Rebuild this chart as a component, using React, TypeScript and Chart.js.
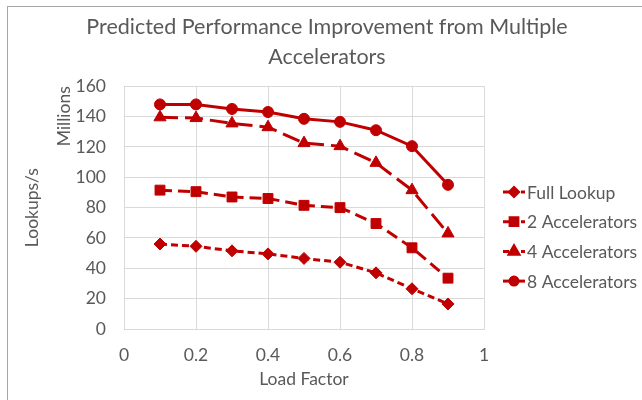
import React, { useEffect, useRef } from "react";
import { Chart, registerables } from "chart.js";
import { drawPoint } from "chart.js/helpers";

Chart.register(...registerables);

const loadFactors = [0.1, 0.2, 0.3, 0.4, 0.5, 0.6, 0.7, 0.8, 0.9];
const fullLookup = [56, 54.5, 51.5, 49.5, 46.5, 44, 37, 26.5, 16.5];
const accel2 = [91.5, 90.5, 87, 86, 81.5, 80, 69.5, 53.5, 33.5];
const accel4 = [139.5, 139, 135.5, 133, 122.5, 120.5, 109.5, 91.5, 63];
const accel8 = [148, 148, 145, 143, 138.5, 136.5, 131, 120.5, 95];

const seriesNames = ["Full Lookup", "2 Accelerators", "4 Accelerators", "8 Accelerators"];
const seriesValues = [fullLookup, accel2, accel4, accel8];
const pointStyles = ["rectRot", "rect", "triangle", "circle"];
const pointRadii = [6, 7, 7, 5.5];
const dashes = [[7, 4], [12, 6], [18, 7], []];

const titleLines = ["Predicted Performance Improvement from Multiple", "Accelerators"];
const xTitle = "Load Factor";
const yTitle = "Lookups/s";
const unitsLabel = "Millions";

const RED = "#C00000";
const GREY = "#595959";
const GRID = "#d9d9d9";
const FONT = "Lato, 'Open Sans', sans-serif";
const FS = 17.5;

const extrasPlugin = {
  id: "extras",
  afterDraw(chart: any) {
    const ctx = chart.ctx;
    const area = chart.chartArea;
    ctx.save();
    ctx.fillStyle = GREY;
    ctx.font = `${FS}px ${FONT}`;
    ctx.textAlign = "center";
    ctx.textBaseline = "middle";
    ctx.translate(64, area.top + 30);
    ctx.rotate(-Math.PI / 2);
    ctx.fillText(unitsLabel, 0, 0);
    ctx.restore();

    const lx = area.right + 19;
    const ly = 192;
    const gap = 29.7;
    chart.data.datasets.forEach((ds: any, i: number) => {
      const y = ly + i * gap;
      ctx.save();
      ctx.strokeStyle = RED;
      ctx.fillStyle = RED;
      ctx.lineWidth = 3;
      ctx.setLineDash(ds.borderDash && ds.borderDash.length ? [6, 3] : []);
      ctx.beginPath();
      ctx.moveTo(lx, y);
      ctx.lineTo(lx + 22, y);
      ctx.stroke();
      ctx.setLineDash([]);
      drawPoint(ctx, { pointStyle: ds.pointStyle, radius: Math.max(4, ds.pointRadius - 1.5), rotation: 0, borderWidth: 1 }, lx + 11, y);
      ctx.fillStyle = GREY;
      ctx.font = `${FS}px ${FONT}`;
      ctx.textAlign = "left";
      ctx.textBaseline = "middle";
      ctx.fillText(ds.label, lx + 24, y + 1);
      ctx.restore();
    });
  },
};

export default function App() {
  const ref = useRef<HTMLCanvasElement | null>(null);

  useEffect(() => {
    if (!ref.current) return;
    const chart = new Chart(ref.current, {
      type: "line",
      data: {
        datasets: seriesNames.map((name, i) => ({
          label: name,
          data: loadFactors.map((x, j) => ({ x, y: seriesValues[i][j] })),
          borderColor: RED,
          backgroundColor: RED,
          borderWidth: 3,
          borderDash: dashes[i],
          pointStyle: pointStyles[i] as any,
          pointRadius: pointRadii[i],
          pointBackgroundColor: RED,
          pointBorderColor: RED,
          pointBorderWidth: 1,
          tension: 0,
          fill: false,
        })),
      },
      options: {
        responsive: false,
        animation: false,
        layout: { padding: { left: 12, right: 0, top: 0, bottom: 10 } },
        plugins: {
          legend: { display: false },
          tooltip: { enabled: false },
          title: {
            display: true,
            text: titleLines,
            color: GREY,
            font: { family: FONT, size: 21.5, weight: "normal", lineHeight: 1.4 },
            padding: { top: 12, bottom: 14 },
          },
        },
        scales: {
          x: {
            type: "linear",
            min: 0,
            max: 1,
            ticks: {
              stepSize: 0.2,
              color: GREY,
              font: { family: FONT, size: FS },
              padding: 16,
              callback: (v: any) => String(+Number(v).toFixed(1)),
            },
            grid: { color: GRID, drawTicks: false, lineWidth: 1 },
            border: { color: GRID },
            title: {
              display: true,
              text: xTitle,
              color: GREY,
              font: { family: FONT, size: FS },
              padding: { top: 4, bottom: 0 },
            },
            afterFit: (s: any) => {
              s.height = 61;
            },
          },
          y: {
            type: "linear",
            min: 0,
            max: 160,
            ticks: {
              stepSize: 20,
              color: GREY,
              font: { family: FONT, size: FS },
              padding: 18,
            },
            grid: { color: GRID, drawTicks: false, lineWidth: 1 },
            border: { color: GRID },
            title: {
              display: true,
              text: yTitle,
              color: GREY,
              font: { family: FONT, size: FS },
              padding: { top: 10, bottom: 0 },
            },
            afterFit: (s: any) => {
              s.width = 112;
            },
          },
          yLegend: {
            type: "linear",
            position: "right",
            min: 0,
            max: 1,
            display: true,
            ticks: { display: false },
            grid: { display: false, drawTicks: false },
            border: { display: false },
            afterFit: (s: any) => {
              s.width = 158;
            },
          },
        },
      },
      plugins: [extrasPlugin],
    } as any);
    return () => chart.destroy();
  }, []);

  return (
    <>
      <div
        style={{
          position: "fixed",
          left: 7,
          top: 6,
          width: 700,
          height: 500,
          border: "1px solid #a6a6a6",
          boxSizing: "border-box",
        }}
      />
      <div style={{ position: "fixed", left: 0, top: 0, width: 642, height: 400 }}>
        <canvas ref={ref} width={642} height={400} style={{ display: "block" }} />
      </div>
    </>
  );
}
